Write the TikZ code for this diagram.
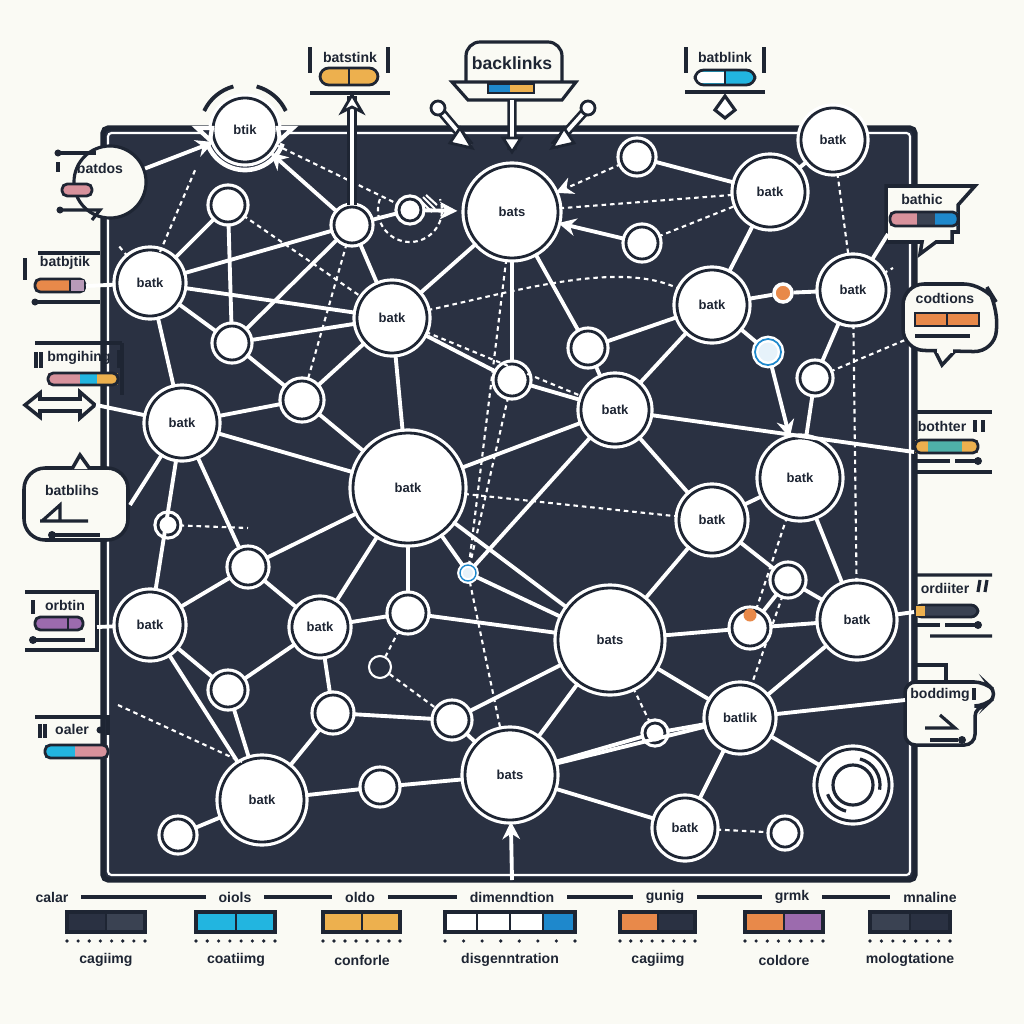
\documentclass[tikz,border=0pt]{standalone}
\usepackage{fontspec}
\setmainfont{Liberation Sans}
\usetikzlibrary{arrows.meta,calc}
\definecolor{bg}{HTML}{FAFAF4}
\definecolor{panel}{HTML}{2A3142}
\definecolor{ink}{HTML}{1E2533}
\definecolor{corange}{HTML}{E8894A}
\definecolor{cyellow}{HTML}{EDB04E}
\definecolor{ccyan}{HTML}{22B5E0}
\definecolor{cblue}{HTML}{1E88CC}
\definecolor{cpink}{HTML}{D8929C}
\definecolor{cpurple}{HTML}{9C6BAE}
\definecolor{cteal}{HTML}{4FB0A8}
\definecolor{cmauve}{HTML}{B89AB8}
\definecolor{cnavy}{HTML}{3A4252}
\definecolor{lblue}{HTML}{E6F2FA}
\begin{document}
\begin{tikzpicture}[x=0.01cm,y=-0.01cm,
  nd/.style={circle,draw=white,double=ink,double distance=0.8pt,line width=0.9pt,fill=white,inner sep=0pt,text=ink,font=\fontsize{3.7}{4}\selectfont\bfseries},
  ed/.style={white,line width=1.1pt},
  dl/.style={white,line width=0.6pt,dash pattern=on 1.3pt off 1.1pt},
  co/.style={draw=ink,line width=0.9pt,fill=bg},
  ln/.style={ink,line width=0.9pt},
  lab/.style={inner sep=0.5pt,text=ink,font=\fontsize{4}{5}\selectfont\bfseries},
  pill/.style={draw=ink,line width=0.8pt},
  tip/.style={-{Stealth[length=5pt,width=5pt]}}]
\fill[bg] (0,0) rectangle (1024,1024);
\useasboundingbox (0,0) rectangle (1024,1024);
% panel
\draw[ink,line width=1.5pt,fill=panel,rounded corners=1.5pt] (103,128) rectangle (915,880);
\draw[white,line width=0.6pt,rounded corners=1pt] (108,133) rectangle (910,875);

% ---- nodes
\node[nd,minimum size=0.64cm] (A) at (245,130) {btik};
\node[nd,minimum size=0.66cm] (C) at (150,283) {batk};
\node[nd,minimum size=0.70cm] (D) at (392,318) {batk};
\node[nd,minimum size=0.92cm] (E) at (512,212) {bats};
\node[nd,minimum size=0.70cm] (F) at (770,192) {batk};
\node[nd,minimum size=0.64cm] (G) at (833,140) {batk};
\node[nd,minimum size=0.66cm] (H) at (853,290) {batk};
\node[nd,minimum size=0.70cm] (I) at (712,305) {batk};
\node[nd,minimum size=0.70cm] (J) at (182,423) {batk};
\node[nd,minimum size=1.10cm] (K) at (408,488) {batk};
\node[nd,minimum size=0.68cm] (L) at (615,410) {batk};
\node[nd,minimum size=0.80cm] (M) at (800,478) {batk};
\node[nd,minimum size=0.66cm] (N) at (712,520) {batk};
\node[nd,minimum size=0.66cm] (O) at (150,625) {batk};
\node[nd,minimum size=0.56cm] (P) at (320,627) {batk};
\node[nd,minimum size=1.04cm] (Q) at (610,640) {bats};
\node[nd,minimum size=0.74cm] (R) at (857,620) {batk};
\node[nd,minimum size=0.66cm] (S) at (740,718) {batlik};
\node[nd,minimum size=0.84cm] (T) at (262,800) {batk};
\node[nd,minimum size=0.90cm] (U) at (510,775) {bats};
\node[nd,minimum size=0.60cm] (V) at (685,828) {batk};
\node[nd,minimum size=0.72cm] (W) at (853,785) {};
\draw[ink,line width=0.9pt] (W) circle[radius=0.2cm];
\draw[ink,line width=0.9pt] ($(W)+(75:0.27cm)$) arc[start angle=75,end angle=-10,radius=0.27cm];
\draw[ink,line width=0.9pt] ($(W)+(255:0.27cm)$) arc[start angle=255,end angle=200,radius=0.27cm];

\node[nd,minimum size=0.34cm] (s1) at (228,205) {};
\node[nd,minimum size=0.36cm] (s2) at (352,225) {};
\node[nd,minimum size=0.34cm] (s3) at (232,343) {};
\node[nd,minimum size=0.38cm] (s4) at (302,400) {};
\node[nd,minimum size=0.32cm] (s5) at (512,380) {};
\node[nd,minimum size=0.34cm] (s6) at (588,348) {};
\node[nd,minimum size=0.32cm] (s7) at (642,243) {};
\node[nd,minimum size=0.32cm] (s8) at (637,157) {};
\node[nd,minimum size=0.20cm] (s9) at (168,525) {};
\node[nd,minimum size=0.36cm] (s10) at (248,567) {};
\node[nd,minimum size=0.36cm] (s11) at (408,613) {};
\node[nd,minimum size=0.34cm] (s12) at (228,690) {};
\node[nd,minimum size=0.36cm] (s13) at (333,713) {};
\node[nd,minimum size=0.34cm] (s14) at (452,720) {};
\node[nd,minimum size=0.34cm] (s15) at (380,787) {};
\node[nd,minimum size=0.32cm] (s16) at (178,835) {};
\node[nd,minimum size=0.28cm] (s17) at (785,833) {};
\node[nd,minimum size=0.20cm] (s18) at (655,733) {};
\node[nd,minimum size=0.30cm] (s19) at (788,580) {};
\node[nd,minimum size=0.30cm] (s20) at (815,378) {};
\node[nd,minimum size=0.36cm] (s21) at (750,628) {};
\node[nd,minimum size=0.22cm] (s22) at (410,210) {};
\node[circle,fill=corange,draw=white,line width=1pt,minimum size=0.18cm,inner sep=0pt] (od1) at (783,293) {};
\node[circle,fill=corange,inner sep=0pt,minimum size=0.13cm] (od2) at (750,615) {};
\node[circle,fill=lblue,draw=white,double=cblue,double distance=0.5pt,line width=0.7pt,minimum size=0.26cm,inner sep=0pt] (lb) at (768,352) {};
\node[circle,fill=lblue,draw=white,double=cblue,double distance=0.4pt,line width=0.6pt,minimum size=0.16cm,inner sep=0pt] (p1) at (468,573) {};
\node[circle,draw=white,line width=0.6pt,minimum size=0.22cm,inner sep=0pt] (p2) at (380,667) {};
% hatched thing next to s22
\draw[white,line width=0.6pt] (420,200) -- (432,212) (423,197) -- (435,209) (426,195) -- (437,205);
\draw[white,line width=0.6pt,dash pattern=on 1.3pt off 1pt] ($(s22)+(160:0.32cm)$) arc[start angle=160,end angle=380,radius=0.32cm];

% A decorations
\draw[ink,line width=1.1pt] ($(A)+(25:0.45cm)$) arc[start angle=25,end angle=75,radius=0.45cm];
\draw[ink,line width=1.1pt] ($(A)+(105:0.45cm)$) arc[start angle=105,end angle=155,radius=0.45cm];
\draw[white,line width=1.3pt] ($(A)+(200:0.40cm)$) arc[start angle=200,end angle=340,radius=0.40cm];
\draw[white,line width=1.2pt,fill=panel] (197,128) -- (212,128) -- (210,140) -- cycle;
\draw[white,line width=1.2pt,fill=panel] (293,128) -- (278,128) -- (280,140) -- cycle;

% ---- solid edges
\foreach \a/\b in {C/s1,C/s2,C/D,C/J,C/s3,s1/s3,s2/s3,s2/D,s2/s22,s3/D,s3/s4,s4/D,s4/J,s4/K,
  D/E,D/K,D/s5,E/s5,E/s6,s8/F,F/G,F/I,I/od1,od1/H,I/s6,I/L,I/lb,H/s20,s20/M,
  L/s5,L/s6,L/K,L/N,L/p1,M/N,M/R,N/Q,N/s19,J/K,J/s10,J/O,K/s10,K/s11,K/Q,K/P,
  s10/O,s10/P,O/s12,O/T,P/s11,P/s12,P/s13,s11/Q,s12/T,s13/T,s13/s14,s14/U,s14/Q,
  s15/T,s15/U,s16/T,Q/s21,Q/S,Q/U,Q/p1,R/s21,R/S,R/s19,s19/s21,S/s18,S/U,S/V,S/W,U/V,U/s18,K/p1}
  \draw[ed] (\a) -- (\b);
% arrows
\draw[ed,tip] (s2) -- (A);
\draw[ed,tip] (s7) -- (E);
\draw[ed,tip] (lb) -- (M);
\draw[ed,tip,shorten >=2pt] (s22) -- (E);
\coordinate (ub) at (512,880);
\draw[ed,tip] (ub) -- (U);

% dashed edges
\coordinate (d1a) at (160,252); \coordinate (d1b) at (196,168);
\draw[dl] (d1a) -- (d1b);
\coordinate (d2a) at (118,705); \coordinate (d2b) at (242,762);
\draw[dl] (d2a) -- (d2b);
\coordinate (d3) at (905,340);
\coordinate (d4) at (893,268);
\coordinate (d5) at (248,528);
\coordinate (d6) at (118,245);
\foreach \a/\b in {s1/D,A/s22,s2/s4,E/F,s7/F,G/H,H/R,s20/d3,H/d4,s5/p1,p1/U,E/p1,s9/d5,C/d6,s11/p2,p2/s14,D/L,s18/Q,V/s17,s21/M,s19/S}
  \draw[dl] (\a) -- (\b);
\draw[dl,tip] (s8) -- (E);
\draw[dl] (K) -- (N);
\draw[dl] (D) .. controls (520,290) and (620,260) .. (I);
\draw[dl] (K) -- (Q);

% ---- top callouts
% batstink
\draw[ln] (310,47) -- (310,73) (388,47) -- (388,73) (310,93) -- (390,93);
\node[lab] (t1) at (350,57) {batstink};
\draw[pill,fill=cyellow,rounded corners=2.5pt] (320,68) rectangle (378,85);
\draw[ink,line width=0.8pt] (349,68) -- (349,85);
\coordinate (tb) at (352,96);
\draw[ink,line width=2.6pt] (s2) -- (tb);
\draw[white,line width=1.1pt] (s2) -- (tb);
\draw[ink,line width=0.8pt,fill=white] (342,112) -- (352,95) -- (362,112) -- (352,107) -- cycle;
% backlinks
\draw[co,rounded corners=4pt] (466,84) -- (466,42) -- (562,42) -- (562,84);
\node[lab,font=\fontsize{5}{6}\selectfont\bfseries] (bl) at (512,63) {backlinks};
\draw[co] (452,82) -- (576,82) -- (562,100) -- (468,100) -- cycle;
\fill[cblue] (488,84) rectangle (510,93);
\fill[cyellow] (510,84) rectangle (534,93);
\draw[ink,line width=0.6pt] (488,84) rectangle (534,93);
\coordinate (k1) at (438,108); \coordinate (k1e) at (470,146);
\coordinate (k2) at (588,108); \coordinate (k2e) at (554,146);
\coordinate (k3) at (512,100); \coordinate (k3e) at (512,150);
\draw[ink,line width=2.6pt] (k1) -- (k1e) (k2) -- (k2e) (k3) -- (k3e);
\draw[white,line width=1.1pt] (k1) -- (k1e) (k2) -- (k2e) (k3) -- (k3e);
\draw[ink,line width=0.8pt,fill=white] (k1) circle[radius=0.07cm] (k2) circle[radius=0.07cm];
\draw[ink,line width=0.8pt,fill=white] (460,128) -- (472,148) -- (450,143) -- cycle;
\draw[ink,line width=0.8pt,fill=white] (564,128) -- (552,148) -- (574,143) -- cycle;
\draw[ink,line width=0.8pt,fill=white] (503,138) -- (512,152) -- (521,138) -- cycle;
% batblink
\draw[ln] (686,47) -- (686,73) (764,47) -- (764,73) (685,92) -- (765,92);
\node[lab] (t3) at (725,57) {batblink};
\fill[ccyan,rounded corners=2.5pt] (695,70) rectangle (755,85);
\fill[white] (697,72) rectangle (725,83);
\draw[pill,rounded corners=2.5pt] (695,70) rectangle (755,85);
\draw[ink,line width=0.8pt] (725,70) -- (725,85);
\draw[ink,line width=0.9pt,fill=white] (725,96) -- (735,110) -- (725,118) -- (715,110) -- cycle;

% ---- left callouts
% batdos
\node[circle,co,minimum size=0.72cm,inner sep=0pt] (B) at (110,182) {};
\node[lab] (t4) at (100,168) {batdos};
\fill[ink] (58,153) circle[radius=0.035cm];
\draw[ln] (58,153) -- (96,153) (58,162) -- (58,172);
\draw[pill,fill=cpink,rounded corners=1.5pt] (62,184) rectangle (92,196);
\fill[ink] (60,210) circle[radius=0.035cm];
\draw[ln] (60,210) -- (100,210) -- (92,220);
\draw[ed,tip] (B) -- (A);
% batbjtik
\draw[ln] (25,258) -- (25,280) (38,253) -- (100,253) (38,302) -- (100,302);
\fill[ink] (35,302) circle[radius=0.035cm];
\node[lab] (t5) at (65,263) {batbjtik};
\draw[pill,fill=corange,rounded corners=1.5pt] (35,279) rectangle (85,292);
\fill[cmauve] (70,280) rectangle (84,291);
\draw[ink,line width=0.8pt] (70,279) -- (70,292);
\coordinate (c5) at (86,286);
\draw[ed] (c5) -- (C);
% bmgihing
\draw[ln] (35,343) -- (122,343) (36,352) -- (36,368) (41,352) -- (41,368) (119,350) -- (119,368) (122,343) -- (122,395);
\node[lab] (t6) at (79,358) {bmgihing};
\fill[cpink] (48,373) rectangle (80,385);
\fill[ccyan] (80,373) rectangle (97,385);
\fill[cyellow] (97,373) rectangle (118,385);
\draw[pill,rounded corners=1.5pt] (48,373) rectangle (118,385);
\draw[co,line width=1pt] (25,405) -- (40,393) -- (40,399) -- (80,399) -- (80,392) -- (95,405) -- (80,418) -- (80,411) -- (40,411) -- (40,417) -- cycle;
\coordinate (c6) at (96,405);
\draw[ed] (c6) -- (J);
% batblihs
\draw[co,line width=1pt,rounded corners=6pt] (24,540) -- (24,468) -- (128,468) -- (128,540) -- cycle;
\draw[co,line width=1pt] (72,469) -- (80,455) -- (90,469);
\fill[bg] (73,470) rectangle (89,472);
\node[lab] (t7) at (72,490) {batblihs};
\draw[ln] (42,521) -- (60,505) -- (60,521) (40,521) -- (88,521);
\fill[ink] (52,535) circle[radius=0.04cm];
\draw[ln] (52,535) -- (100,535);
\coordinate (c7) at (130,505);
\draw[ed] (c7) -- (J);
% orbtin
\draw[ln] (25,592) -- (97,592) -- (97,650) -- (25,650) (33,600) -- (33,614);
\node[lab] (t8) at (65,605) {orbtin};
\draw[pill,fill=cpurple,rounded corners=1.5pt] (35,617) rectangle (83,630);
\draw[ink,line width=0.8pt] (68,617) -- (68,630);
\fill[ink] (33,640) circle[radius=0.04cm];
\draw[ln] (33,640) -- (85,640);
\coordinate (c8) at (97,627);
\draw[ed] (c8) -- (O);
% oaler
\draw[ln] (35,717) -- (108,717) -- (108,735) (40,724) -- (40,738) (45,724) -- (45,738);
\node[lab] (t9) at (72,729) {oaler};
\fill[ink] (100,730) circle[radius=0.035cm];
\fill[ccyan] (45,745) rectangle (75,758);
\fill[cpink] (75,745) rectangle (108,758);
\draw[pill,rounded corners=1.5pt] (45,745) rectangle (108,758);

% ---- right callouts
% bathic
\draw[co,line width=1pt] (886,186) -- (975,186) -- (958,205) -- (958,232) -- (952,232) -- (952,242) -- (936,242) -- (920,254) -- (922,242) -- (886,242) -- cycle;
\node[lab] (t10) at (922,199) {bathic};
\fill[cpink] (890,212) rectangle (917,226);
\fill[cnavy] (917,212) rectangle (935,226);
\fill[cblue] (935,212) rectangle (958,226);
\draw[pill,rounded corners=1.5pt] (890,212) rectangle (958,226);
\coordinate (c10) at (888,234);
\draw[ed] (H) -- (c10);
% codtions
\draw[co,line width=1pt,rounded corners=6pt] (903,350) -- (903,284) -- (985,284) -- (998,305) -- (995,352) -- cycle;
\draw[co,line width=1pt] (935,351) -- (942,365) -- (955,351);
\fill[bg] (937,349) rectangle (953,353);
\node[lab] (t11) at (945,298) {codtions};
\draw[pill,fill=corange] (915,313) rectangle (979,326);
\draw[ink,line width=0.8pt] (947,313) -- (947,326);
\draw[ln] (915,336) -- (970,336);
% bothter
\draw[ln] (915,412) -- (992,412) (915,472) -- (992,472) (975,420) -- (975,432) (983,420) -- (983,432);
\node[lab] (t12) at (942,426) {bothter};
\fill[cyellow] (915,440) rectangle (928,453);
\fill[cteal] (928,440) rectangle (962,453);
\fill[cyellow] (962,440) rectangle (978,453);
\draw[pill,rounded corners=1.5pt] (915,440) rectangle (978,453);
\draw[ln] (915,461) -- (950,461) (955,461) -- (975,461);
\fill[ink] (978,461) circle[radius=0.04cm];
\coordinate (c12) at (914,452);
\draw[ed] (L) -- (c12);
% ordiiter
\draw[ln] (915,575) -- (992,575) (930,636) -- (992,636) (980,580) -- (978,592) (987,580) -- (985,592);
\node[lab] (t13) at (945,588) {ordiiter};
\draw[pill,fill=cnavy,rounded corners=2pt] (915,605) rectangle (978,617);
\fill[cyellow] (916,606) rectangle (925,616);
\draw[ln] (915,625) -- (940,625) (945,625) -- (975,625);
\fill[ink] (978,625) circle[radius=0.04cm];
\coordinate (c13) at (914,612);
\draw[ed] (R) -- (c13);
% bodding
\draw[ln] (915,665) -- (946,665) -- (946,680);
\draw[co,line width=1pt,rounded corners=3pt] (905,745) -- (905,682) -- (985,682) -- (998,694) -- (985,706) -- (975,706) -- (975,745) -- cycle;
\node[lab] (t14) at (940,695) {boddimg};
\draw[ln] (974,688) -- (974,700);
\draw[ln] (940,715) -- (955,728) -- (925,728);
\draw[ln] (930,740) -- (958,740);
\fill[ink] (962,740) circle[radius=0.04cm];
\coordinate (c14) at (905,700);
\draw[ed] (S) -- (c14);

% ---- bottom legend
\node[lab] (lg1) at (52,897) {calar};
\node[lab] (lg2) at (235,897) {oiols};
\node[lab] (lg3) at (360,897) {oldo};
\node[lab] (lg4) at (512,897) {dimenndtion};
\node[lab] (lg5) at (665,897) {gunig};
\node[lab] (lg6) at (792,897) {grmk};
\node[lab] (lg7) at (930,897) {mnaline};
\foreach \a/\b in {lg1/lg2,lg2/lg3,lg3/lg4,lg4/lg5,lg5/lg6,lg6/lg7}
  \draw[ln,shorten <=3pt,shorten >=3pt] (\a) -- (\b);
% swatches
\def\sw#1#2#3#4#5{\fill[#4] (#1,912) rectangle (#2,932); \fill[#5] (#2,912) rectangle (#3,932);
  \draw[ink,line width=0.9pt] (#1,912) rectangle (#3,932); \draw[ink,line width=0.6pt] (#2,912) -- (#2,932);}
\sw{67}{106}{145}{panel}{cnavy}
\sw{196}{236}{275}{ccyan}{ccyan}
\sw{323}{362}{400}{cyellow}{cyellow}
\sw{620}{658}{695}{corange}{panel}
\sw{745}{784}{823}{corange}{cpurple}
\sw{870}{910}{950}{cnavy}{panel}
\fill[white] (445,912) rectangle (543,932);
\fill[cblue] (543,912) rectangle (575,932);
\draw[ink,line width=0.9pt] (445,912) rectangle (575,932);
\draw[ink,line width=0.6pt] (477,912) -- (477,932) (510,912) -- (510,932) (543,912) -- (543,932);
\foreach \xa/\xb in {67/145,196/275,323/400,445/575,620/695,745/823,870/950}{
  \foreach \i in {0,...,7}{\fill[ink] ({\xa+(\xb-\xa)*\i/7},941) circle[radius=0.018cm];}}
\node[lab] (b1) at (106,960) {cagiimg};
\node[lab] (b2) at (236,960) {coatiimg};
\node[lab] (b3) at (362,960) {conforle};
\node[lab] (b4) at (510,960) {disgenntration};
\node[lab] (b5) at (658,960) {cagiimg};
\node[lab] (b6) at (784,960) {coldore};
\node[lab] (b7) at (910,960) {mologtatione};
\end{tikzpicture}
\end{document}
